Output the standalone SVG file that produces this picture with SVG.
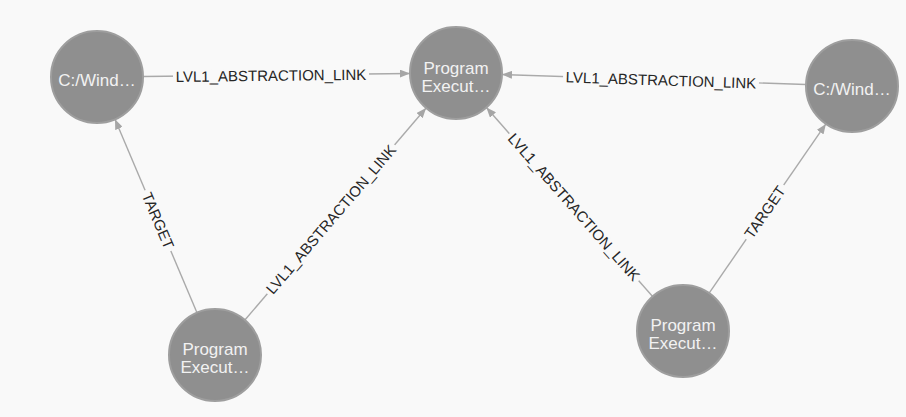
<svg xmlns="http://www.w3.org/2000/svg" width="906" height="417" viewBox="0 0 906 417">
  <defs>
    <marker id="arrow" markerUnits="userSpaceOnUse" markerWidth="10" markerHeight="8" refX="10" refY="4" orient="auto">
      <path d="M0,0 L10,4 L0,8 z" fill="#a6a6a6"/>
    </marker>
    <style>
      .edge { stroke: #aaaaaa; stroke-width: 1.4; fill: none; marker-end: url(#arrow); }
      .lbg { fill: #f9f9f9; }
      .elabel { font-family: "Liberation Sans", Arial, sans-serif; font-size: 15px; fill: #262626; text-anchor: middle; }
      .node circle { fill: #8f8f8f; stroke: #9e9e9e; stroke-width: 2; }
      .node text { font-family: "Liberation Sans", Arial, sans-serif; font-size: 17px; fill: #f2f2f2; text-anchor: middle; }
    </style>
  </defs>
  <rect width="906" height="417" fill="#f9f9f9"/>

  <g id="connectors">
    <!-- A -> B -->
    <line class="edge" x1="143" y1="76.5" x2="410" y2="73.5"/>
    <g transform="translate(271,75.6) rotate(-0.64)">
      <rect class="lbg" x="-98" y="-7" width="196" height="14"/>
      <text class="elabel" dy="0.35em">LVL1_ABSTRACTION_LINK</text>
    </g>
    <!-- C -> B -->
    <line class="edge" x1="806" y1="84.5" x2="502" y2="74.5"/>
    <g transform="translate(661,80.2) rotate(1.88)">
      <rect class="lbg" x="-98" y="-7" width="196" height="14"/>
      <text class="elabel" dy="0.35em">LVL1_ABSTRACTION_LINK</text>
    </g>
    <!-- D -> A -->
    <line class="edge" x1="197" y1="312.7" x2="115" y2="119.3"/>
    <g transform="translate(158,220.7) rotate(67)">
      <rect class="lbg" x="-33" y="-7" width="66" height="14"/>
      <text class="elabel" dy="0.35em">TARGET</text>
    </g>
    <!-- D -> B -->
    <line class="edge" x1="244.9" y1="320" x2="426.1" y2="108"/>
    <g transform="translate(331,219.4) rotate(-49.5)">
      <rect class="lbg" x="-98" y="-7" width="196" height="14"/>
      <text class="elabel" dy="0.35em">LVL1_ABSTRACTION_LINK</text>
    </g>
    <!-- E -> B -->
    <line class="edge" x1="652.6" y1="296.5" x2="486.4" y2="107.5"/>
    <g transform="translate(574,207.1) rotate(48.66)">
      <rect class="lbg" x="-98" y="-7" width="196" height="14"/>
      <text class="elabel" dy="0.35em">LVL1_ABSTRACTION_LINK</text>
    </g>
    <!-- E -> C -->
    <line class="edge" x1="709.1" y1="293.1" x2="825.9" y2="123.9"/>
    <g transform="translate(765,212.1) rotate(-55.4)">
      <rect class="lbg" x="-33" y="-7" width="66" height="14"/>
      <text class="elabel" dy="0.35em">TARGET</text>
    </g>
  </g>

  <g id="node-a" class="node">
    <circle cx="97" cy="77" r="46"/>
    <text x="97" y="86">C:/Wind…</text>
  </g>
  <g id="node-b" class="node">
    <circle cx="456" cy="73" r="46"/>
    <text x="456" y="74">Program</text>
    <text x="456" y="92">Execut…</text>
  </g>
  <g id="node-c" class="node">
    <circle cx="852" cy="86" r="46"/>
    <text x="852" y="95">C:/Wind…</text>
  </g>
  <g id="node-d" class="node">
    <circle cx="215" cy="355" r="46"/>
    <text x="215" y="355">Program</text>
    <text x="215" y="373">Execut…</text>
  </g>
  <g id="node-e" class="node">
    <circle cx="683" cy="331" r="46"/>
    <text x="683" y="331">Program</text>
    <text x="683" y="349">Execut…</text>
  </g>
</svg>
